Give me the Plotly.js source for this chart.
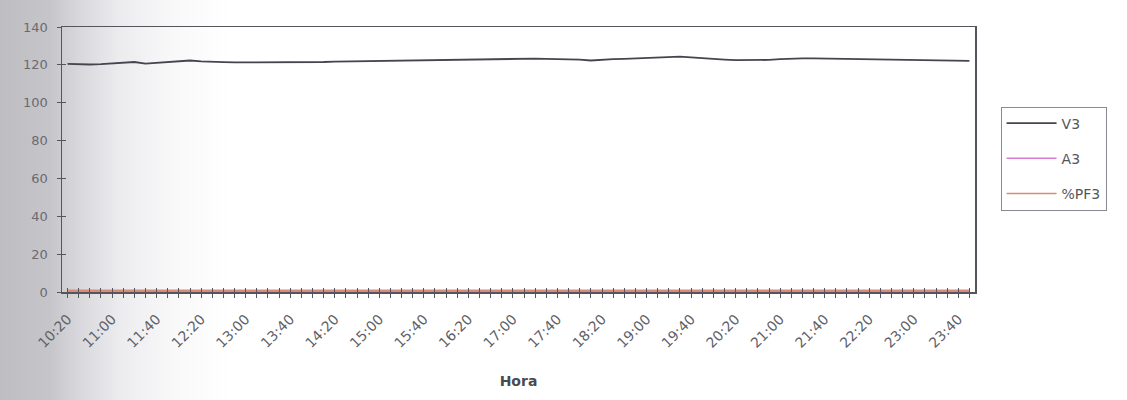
<!DOCTYPE html>
<html>
<head>
<meta charset="utf-8">
<script src="https://cdn.plot.ly/plotly-3.0.1.min.js"></script>
<style>
html, body { margin:0; padding:0; }
body { width:1127px; height:400px; overflow:hidden;
  background: linear-gradient(to right, #bdbdc2 0px, #c6c6ca 50px, #d9d9dd 80px, #ececef 120px, #f8f8f9 170px, #ffffff 230px); }
#chart { width:1127px; height:400px; }
</style>
</head>
<body>
<div id="chart"></div>
<script>
const times = ["10:20","10:30","10:40","10:50","11:00","11:10","11:20","11:30","11:40","11:50",
"12:00","12:10","12:20","12:30","12:40","12:50","13:00","13:10","13:20","13:30",
"13:40","13:50","14:00","14:10","14:20","14:30","14:40","14:50","15:00","15:10",
"15:20","15:30","15:40","15:50","16:00","16:10","16:20","16:30","16:40","16:50",
"17:00","17:10","17:20","17:30","17:40","17:50","18:00","18:10","18:20","18:30",
"18:40","18:50","19:00","19:10","19:20","19:30","19:40","19:50","20:00","20:10",
"20:20","20:30","20:40","20:50","21:00","21:10","21:20","21:30","21:40","21:50",
"22:00","22:10","22:20","22:30","22:40","22:50","23:00","23:10","23:20","23:30",
"23:40","23:50"];

const v3 = [120.5,120.3,120.2,120.4,120.8,121.3,121.5,120.6,121.0,121.6,
122.0,122.3,121.8,121.5,121.4,121.3,121.3,121.2,121.3,121.2,
121.3,121.2,121.4,121.5,121.7,121.8,121.9,122.0,122.1,122.2,
122.3,122.3,122.4,122.5,122.6,122.7,122.8,122.9,123.0,123.1,
123.2,123.3,123.3,123.2,123.1,123.0,122.8,122.3,122.8,123.0,
123.2,123.4,123.6,123.8,124.1,124.3,124.0,123.5,123.2,122.8,
122.5,122.4,122.4,122.6,123.0,123.3,123.4,123.4,123.3,123.3,
123.2,123.1,123.0,122.9,122.8,122.7,122.6,122.5,122.4,122.3,
122.2,122.1];

const a3 = [0.3,0.3,0.3,0.3,0.3,0.3,0.3,0.3,0.3,0.3,
0.3,0.3,0.3,0.3,0.3,0.3,0.3,0.3,0.3,0.3,
0.3,0.3,0.3,0.3,0.3,0.3,0.3,0.3,0.3,0.3,
0.3,0.3,0.3,0.3,0.3,0.3,0.3,0.3,0.3,0.3,
0.3,0.3,0.3,0.3,0.3,0.3,0.3,0.3,0.3,0.3,
0.3,0.3,0.3,0.3,0.3,0.3,0.3,0.3,0.3,0.3,
0.3,0.3,0.3,0.3,0.3,0.3,0.3,0.3,0.3,0.3,
0.3,0.3,0.3,0.3,0.3,0.3,0.3,0.3,0.3,0.3,
0.3,0.3];

const pf3 = [0.9,0.9,0.9,0.9,0.9,0.9,0.9,0.9,0.9,0.9,
0.9,0.9,0.9,0.9,0.9,0.9,0.9,0.9,0.9,0.9,
0.9,0.9,0.9,0.9,0.9,0.9,0.9,0.9,0.9,0.9,
0.9,0.9,0.9,0.9,0.9,0.9,0.9,0.9,0.9,0.9,
0.9,0.9,0.9,0.9,0.9,0.9,0.9,0.9,0.9,0.9,
0.9,0.9,0.9,0.9,0.9,0.9,0.9,0.9,0.9,0.9,
0.9,0.9,0.9,0.9,0.9,0.9,0.9,0.9,0.9,0.9,
0.9,0.9,0.9,0.9,0.9,0.9,0.9,0.9,0.9,0.9,
0.9,0.9];

const seriesNames = ["V3","A3","%PF3"];
const yTicks = [0,20,40,60,80,100,120,140];
const xTickText = times.map((t,i) => (i % 4 === 0 ? t : ""));

const FONT = "DejaVu Sans, Liberation Sans, Arial, sans-serif";
const axisCol = "#55555c";

const traces = [
  {x: times, y: v3, name: seriesNames[0], type: "scatter", mode: "lines",
   line: {color: "#45454f", width: 1.8}, legendgroup: "g1"},
  {x: times, y: a3, name: seriesNames[1], type: "scatter", mode: "lines",
   line: {color: "#d77ad0", width: 1.6}, legendgroup: "g2"},
  {x: times, y: pf3, name: seriesNames[2], type: "scatter", mode: "lines",
   line: {color: "#d98a78", width: 1.6}, legendgroup: "g3"},
  {x: times, y: v3, type: "scatter", mode: "lines", xaxis: "x2", yaxis: "y2",
   line: {color: "rgba(0,0,0,0)", width: 0}, showlegend: false, hoverinfo: "skip"}
];

const layout = {
  width: 1127, height: 400,
  margin: {l: 62, r: 152, t: 27, b: 108},
  paper_bgcolor: "rgba(0,0,0,0)",
  plot_bgcolor: "rgba(0,0,0,0)",
  showlegend: true,
  font: {family: FONT, color: "#55555a", size: 12},
  xaxis: {
    type: "category", range: [-0.5, times.length - 0.5],
    tickmode: "array", tickvals: times, ticktext: xTickText,
    tickangle: -45, ticks: "outside", ticklen: 4, tickcolor: axisCol, tickwidth: 1,
    ticklabelstandoff: 8,
    tickfont: {family: FONT, size: 14, color: "#606066"},
    showline: true, mirror: true, linecolor: axisCol, linewidth: 1.5,
    showgrid: false, zeroline: false,
    title: {text: "Hora", font: {family: FONT, size: 14, color: "#4a4a52", weight: "bold"}, standoff: 26}
  },
  xaxis2: {
    type: "category", overlaying: "x", matches: "x", side: "bottom",
    tickmode: "array", tickvals: times, ticks: "inside", ticklen: 4, tickcolor: axisCol,
    showticklabels: false, showline: false, showgrid: false, zeroline: false
  },
  yaxis: {
    range: [0, 140], tickmode: "array", tickvals: yTicks,
    ticks: "outside", ticklen: 4, tickcolor: axisCol,
    ticklabelstandoff: 6,
    tickfont: {family: FONT, size: 13, color: "#6a6a70"},
    showline: true, mirror: true, linecolor: axisCol, linewidth: 1.5,
    showgrid: false, zeroline: false
  },
  yaxis2: {
    range: [0, 140], overlaying: "y", matches: "y", side: "left",
    tickmode: "array", tickvals: yTicks, ticks: "inside", ticklen: 4, tickcolor: axisCol,
    showticklabels: false, showline: false, showgrid: false, zeroline: false
  },
  legend: {
    x: 1.028, xanchor: "left", y: 0.70, yanchor: "top",
    bgcolor: "rgba(255,255,255,0)", bordercolor: "#8a8a90", borderwidth: 1,
    font: {family: FONT, size: 14, color: "#55555a"},
    tracegroupgap: 14, itemwidth: 50,
    entrywidth: 140, entrywidthmode: "pixels"
  }
};

Plotly.newPlot("chart", traces, layout, {displayModeBar: false, staticPlot: true});
</script>
</body>
</html>
